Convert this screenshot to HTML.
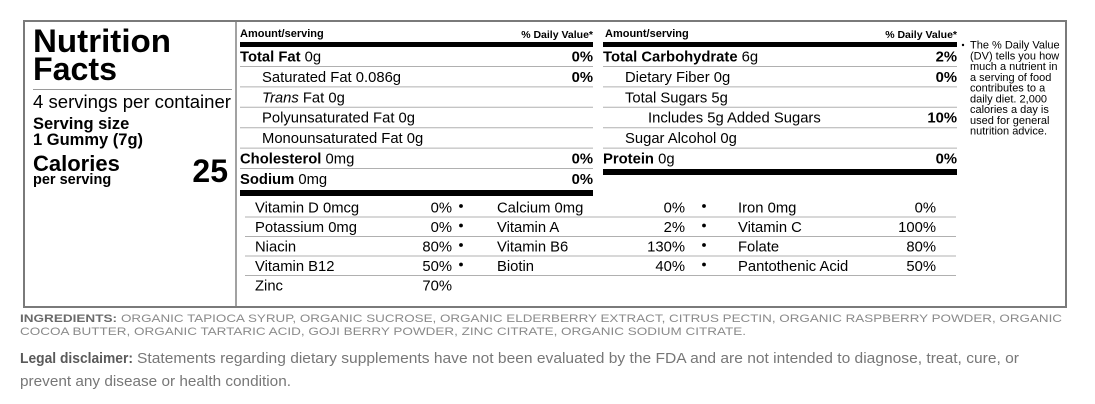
<!DOCTYPE html>
<html>
<head>
<meta charset="utf-8">
<style>
html,body{margin:0;padding:0;background:#fff;}
body{width:1095px;height:404px;overflow:hidden;}
svg{display:block;}
text{font-family:"Liberation Sans",Arial,sans-serif;}
</style>
</head>
<body>
<svg width="1095" height="404" viewBox="0 0 1095 404" xmlns="http://www.w3.org/2000/svg">
  <rect x="0" y="0" width="1095" height="404" fill="#fff"/>
  <!-- outer border -->
  <rect x="24" y="21" width="1042" height="286" fill="#fff" stroke="#7a7a7a" stroke-width="2"/>
  <!-- left divider -->
  <line x1="236" y1="22" x2="236" y2="306" stroke="#444" stroke-width="1"/>

  <!-- left column -->
  <g fill="#000" font-weight="bold">
    <text x="33" y="52" font-size="32" textLength="138" lengthAdjust="spacingAndGlyphs">Nutrition</text>
    <text x="33" y="80" font-size="32" textLength="84" lengthAdjust="spacingAndGlyphs">Facts</text>
  </g>
  <line x1="33" y1="89.5" x2="232" y2="89.5" stroke="#9a9a9a" stroke-width="1"/>
  <text x="33" y="108" font-size="18.5" fill="#000" textLength="198" lengthAdjust="spacingAndGlyphs">4 servings per container</text>
  <g fill="#000" font-weight="bold">
    <text x="33" y="129" font-size="16.5">Serving size</text>
    <text x="33" y="145" font-size="16.5">1 Gummy (7g)</text>
    <text x="33" y="171" font-size="22">Calories</text>
    <text x="33" y="184" font-size="14.5">per serving</text>
    <text x="228" y="182" font-size="32" text-anchor="end">25</text>
  </g>

  <!-- column 1 -->
  <g fill="#000">
    <text x="240" y="37" font-size="11" font-weight="bold">Amount/serving</text>
    <text x="593" y="38" font-size="10.5" font-weight="bold" text-anchor="end">% Daily Value*</text>
  </g>
  <rect x="240" y="42" width="353" height="5" fill="#000"/>
  <g stroke="#b0b0b0" stroke-width="1">
    <line x1="240" y1="66.5" x2="593" y2="66.5"/>
    <line x1="240" y1="86.9" x2="593" y2="86.9"/>
    <line x1="240" y1="107.3" x2="593" y2="107.3"/>
    <line x1="240" y1="127.7" x2="593" y2="127.7"/>
    <line x1="240" y1="148.1" x2="593" y2="148.1"/>
    <line x1="240" y1="168.5" x2="593" y2="168.5"/>
  </g>
  <g fill="#000" font-size="14.8">
    <text x="240" y="61.5"><tspan font-weight="bold">Total Fat</tspan> 0g</text>
    <text x="262" y="81.9">Saturated Fat 0.086g</text>
    <text x="262" y="102.3"><tspan font-style="italic">Trans</tspan> Fat 0g</text>
    <text x="262" y="122.7">Polyunsaturated Fat 0g</text>
    <text x="262" y="143.1">Monounsaturated Fat 0g</text>
    <text x="240" y="163.5"><tspan font-weight="bold">Cholesterol</tspan> 0mg</text>
    <text x="240" y="183.9"><tspan font-weight="bold">Sodium</tspan> 0mg</text>
  </g>
  <g fill="#000" font-size="14.8" font-weight="bold" text-anchor="end">
    <text x="593" y="61.5">0%</text>
    <text x="593" y="81.9">0%</text>
    <text x="593" y="163.5">0%</text>
    <text x="593" y="183.9">0%</text>
  </g>
  <rect x="240" y="190" width="353" height="6" fill="#000"/>

  <!-- column 2 -->
  <g fill="#000">
    <text x="605" y="37" font-size="11" font-weight="bold">Amount/serving</text>
    <text x="957" y="38" font-size="10.5" font-weight="bold" text-anchor="end">% Daily Value*</text>
  </g>
  <rect x="603" y="42" width="354" height="5" fill="#000"/>
  <g stroke="#b0b0b0" stroke-width="1">
    <line x1="603" y1="66.5" x2="957" y2="66.5"/>
    <line x1="603" y1="86.9" x2="957" y2="86.9"/>
    <line x1="603" y1="107.3" x2="957" y2="107.3"/>
    <line x1="603" y1="127.7" x2="957" y2="127.7"/>
    <line x1="603" y1="148.1" x2="957" y2="148.1"/>
  </g>
  <g fill="#000" font-size="14.8">
    <text x="603" y="61.5"><tspan font-weight="bold">Total Carbohydrate</tspan> 6g</text>
    <text x="625" y="81.9">Dietary Fiber 0g</text>
    <text x="625" y="102.3">Total Sugars 5g</text>
    <text x="648" y="122.7">Includes 5g Added Sugars</text>
    <text x="625" y="143.1">Sugar Alcohol 0g</text>
    <text x="603" y="163.5"><tspan font-weight="bold">Protein</tspan> 0g</text>
  </g>
  <g fill="#000" font-size="14.8" font-weight="bold" text-anchor="end">
    <text x="957" y="61.5">2%</text>
    <text x="957" y="81.9">0%</text>
    <text x="957" y="122.7">10%</text>
    <text x="957" y="163.5">0%</text>
  </g>
  <rect x="603" y="169" width="354" height="6" fill="#000"/>

  <!-- vitamins -->
  <g stroke="#b0b0b0" stroke-width="1">
    <line x1="245" y1="217" x2="956" y2="217"/>
    <line x1="245" y1="236.5" x2="956" y2="236.5"/>
    <line x1="245" y1="256" x2="956" y2="256"/>
    <line x1="245" y1="275.5" x2="956" y2="275.5"/>
  </g>
  <g fill="#000" font-size="14.8">
    <text x="255" y="212.5">Vitamin D 0mcg</text>
    <text x="255" y="232">Potassium 0mg</text>
    <text x="255" y="251.5">Niacin</text>
    <text x="255" y="271">Vitamin B12</text>
    <text x="255" y="290.5">Zinc</text>
    <text x="497" y="212.5">Calcium 0mg</text>
    <text x="497" y="232">Vitamin A</text>
    <text x="497" y="251.5">Vitamin B6</text>
    <text x="497" y="271">Biotin</text>
    <text x="738" y="212.5">Iron 0mg</text>
    <text x="738" y="232">Vitamin C</text>
    <text x="738" y="251.5">Folate</text>
    <text x="738" y="271">Pantothenic Acid</text>
  </g>
  <g fill="#000" font-size="14.8" text-anchor="end">
    <text x="452" y="212.5">0%</text>
    <text x="452" y="232">0%</text>
    <text x="452" y="251.5">80%</text>
    <text x="452" y="271">50%</text>
    <text x="452" y="290.5">70%</text>
    <text x="685" y="212.5">0%</text>
    <text x="685" y="232">2%</text>
    <text x="685" y="251.5">130%</text>
    <text x="685" y="271">40%</text>
    <text x="936" y="212.5">0%</text>
    <text x="936" y="232">100%</text>
    <text x="936" y="251.5">80%</text>
    <text x="936" y="271">50%</text>
  </g>
  <g fill="#000">
    <circle cx="461" cy="206" r="1.9"/>
    <circle cx="461" cy="225.5" r="1.9"/>
    <circle cx="461" cy="245" r="1.9"/>
    <circle cx="461" cy="264.5" r="1.9"/>
    <circle cx="704" cy="206" r="1.9"/>
    <circle cx="704" cy="225.5" r="1.9"/>
    <circle cx="704" cy="245" r="1.9"/>
    <circle cx="704" cy="264.5" r="1.9"/>
  </g>

  <!-- footnote -->
  <circle cx="963" cy="45" r="1.2" fill="#000"/>
  <g fill="#000" font-size="11">
    <text x="970" y="48.5">The % Daily Value</text>
    <text x="970" y="59.3">(DV) tells you how</text>
    <text x="970" y="70">much a nutrient in</text>
    <text x="970" y="80.8">a serving of food</text>
    <text x="970" y="91.5">contributes to a</text>
    <text x="970" y="102.3">daily diet. 2,000</text>
    <text x="970" y="113">calories a day is</text>
    <text x="970" y="123.8">used for general</text>
    <text x="970" y="134.5">nutrition advice.</text>
  </g>

  <!-- ingredients -->
  <text x="20" y="322" font-size="11" font-weight="bold" fill="#6a6a6a" textLength="97" lengthAdjust="spacingAndGlyphs">INGREDIENTS:</text>
  <text x="121" y="322" font-size="11" fill="#8a8a8a" textLength="941" lengthAdjust="spacingAndGlyphs">ORGANIC TAPIOCA SYRUP, ORGANIC SUCROSE, ORGANIC ELDERBERRY EXTRACT, CITRUS PECTIN, ORGANIC RASPBERRY POWDER, ORGANIC</text>
  <text x="20" y="335" font-size="11" fill="#8a8a8a" textLength="726" lengthAdjust="spacingAndGlyphs">COCOA BUTTER, ORGANIC TARTARIC ACID, GOJI BERRY POWDER, ZINC CITRATE, ORGANIC SODIUM CITRATE.</text>

  <!-- legal -->
  <text x="20" y="363" font-size="15" font-weight="bold" fill="#5a5a5a" textLength="113" lengthAdjust="spacingAndGlyphs">Legal disclaimer:</text>
  <text x="137" y="363" font-size="15" fill="#777" textLength="882" lengthAdjust="spacingAndGlyphs">Statements regarding dietary supplements have not been evaluated by the FDA and are not intended to diagnose, treat, cure, or</text>
  <text x="20" y="386" font-size="15" fill="#777" textLength="271" lengthAdjust="spacingAndGlyphs">prevent any disease or health condition.</text>
</svg>
</body>
</html>
